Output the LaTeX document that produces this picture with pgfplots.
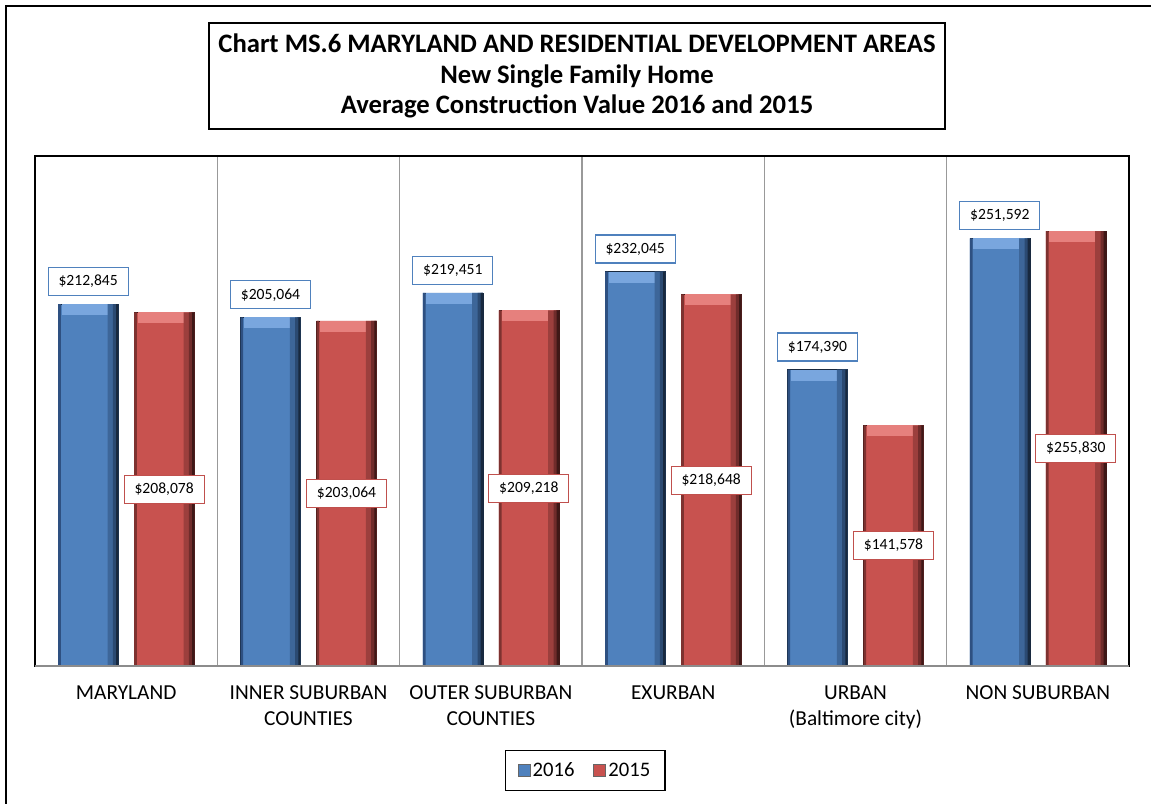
\documentclass[border=0pt]{standalone}
\usepackage{fontspec}
\setmainfont{Carlito}
\usepackage{pgfplots}
\pgfplotsset{compat=1.18}
\usepackage{pgfplotstable}

\definecolor{barblue}{HTML}{4F81BD}
\definecolor{bluebevel}{HTML}{79A6DE}
\definecolor{bluemid}{HTML}{3D6699}
\definecolor{bluemid2}{HTML}{2B4A72}
\definecolor{bluedark}{HTML}{18293F}
\definecolor{blueedge}{HTML}{2E5081}
\definecolor{barred}{HTML}{C0504D}
\definecolor{redbar}{HTML}{C8524F}
\definecolor{redbevel}{HTML}{E6807D}
\definecolor{redmid}{HTML}{9C3F3D}
\definecolor{redmid2}{HTML}{702C2B}
\definecolor{reddark}{HTML}{3F1817}
\definecolor{rededge}{HTML}{7E3230}

\pgfplotstableread{
x v lab
0 212.845 212,845
1 205.064 205,064
2 219.451 219,451
3 232.045 232,045
4 174.390 174,390
5 251.592 251,592
}\tblA
\pgfplotstableread{
x v
0 208.078
1 203.064
2 209.218
3 218.648
4 141.578
5 255.830
}\tblB

\begin{document}
\begin{tikzpicture}
\path[use as bounding box] (0,0) rectangle (863.25pt,602.25pt);
\draw[line width=1.1pt] (4.5pt,-20pt) -- (4.5pt,597.75pt) -- (880pt,597.75pt);
\node[draw=black, line width=1.1pt, minimum width=552pt, minimum height=79.5pt, align=center,
      font=\bfseries\fontsize{20}{22.8}\selectfont] at (432.75pt,545.25pt)
  {Chart MS.6 MARYLAND AND RESIDENTIAL DEVELOPMENT AREAS\\New Single Family Home\\Average Construction Value 2016 and 2015};
\begin{axis}[
  at={(26.25pt,102.75pt)}, anchor=south west,
  width=820.5pt, height=382.5pt, scale only axis,
  xmin=-0.5, xmax=5.5, ymin=0, ymax=300,
  ytick=\empty,
  xtick={0,1,2,3,4,5},
  xticklabels={MARYLAND,{INNER SUBURBAN\\COUNTIES},{OUTER SUBURBAN\\COUNTIES},EXURBAN,{URBAN\\(Baltimore city)},NON SUBURBAN},
  minor xtick={0.5,1.5,2.5,3.5,4.5},
  xminorgrids,
  minor grid style={draw=black!40, line width=1.1pt},
  major tick length=0pt, minor tick length=0pt,
  axis line style={line width=1.1pt, black},
  xticklabel style={align=center, font=\fontsize{16}{19.5}\selectfont, yshift=-11pt},
  ybar, bar width=45pt,
  clip=false,
  legend style={at={(0.503,-0.2049)}, anchor=center, legend columns=2, draw=black, line width=1.1pt,
     font=\fontsize{15.5}{18}\selectfont, inner xsep=9pt, inner ysep=7pt,
     /tikz/every even column/.append style={column sep=12pt}},
  legend image code/.code={\draw[#1, draw=black!60, line width=0.3pt] (0pt,-4.5pt) rectangle (9pt,4.5pt);},
]
% 2016 main bars with labels
\addplot[fill=barblue, draw=bluedark, line width=0.4pt, bar shift=-28.5pt,
  point meta=explicit symbolic,
  nodes near coords={\$\pgfplotspointmeta},
  every node near coord/.append style={draw=barblue, fill=white, line width=0.8pt, text=black,
     font=\fontsize{11.7}{13}\selectfont, minimum width=60pt, minimum height=21pt, inner sep=0pt,
     anchor=south, yshift=6pt},
  error bars/.cd, y dir=minus, y fixed=6.5, error mark=none,
  error bar style={line width=40pt, color=bluebevel}
] table[x=x, y=v, meta=lab] {\tblA};
\addlegendentry{2016}
% 2015 main bars
\addplot[fill=redbar, draw=reddark, line width=0.4pt, bar shift=28.5pt,
  error bars/.cd, y dir=minus, y fixed=6.5, error mark=none,
  error bar style={line width=40pt, color=redbevel}
] table[x=x, y=v] {\tblB};
\addlegendentry{2015}
% edge shading strips
\addplot[forget plot, fill=bluemid, draw=none, bar width=8pt, bar shift=-10pt] table[x=x, y=v] {\tblA};
\addplot[forget plot, fill=bluemid2, draw=none, bar width=4pt, bar shift=-8pt] table[x=x, y=v] {\tblA};
\addplot[forget plot, fill=bluedark, draw=none, bar width=1.6pt, bar shift=-6.8pt] table[x=x, y=v] {\tblA};
\addplot[forget plot, fill=blueedge, draw=none, bar width=2pt, bar shift=-50pt] table[x=x, y=v] {\tblA};
\addplot[forget plot, fill=redmid, draw=none, bar width=8pt, bar shift=47pt] table[x=x, y=v] {\tblB};
\addplot[forget plot, fill=redmid2, draw=none, bar width=4pt, bar shift=49pt] table[x=x, y=v] {\tblB};
\addplot[forget plot, fill=reddark, draw=none, bar width=1.6pt, bar shift=50.2pt] table[x=x, y=v] {\tblB};
\addplot[forget plot, fill=rededge, draw=none, bar width=2pt, bar shift=7pt] table[x=x, y=v] {\tblB};
% 2015 labels, centred on the bars
\addplot[forget plot, draw=none, fill=none, bar shift=28.5pt,
  point meta=explicit symbolic,
  visualization depends on={value \thisrow{v} \as \rawy},
  nodes near coords={\$\pgfplotspointmeta},
  every node near coord/.append style={draw=barred, fill=white, line width=0.8pt, text=black,
     font=\fontsize{11.7}{13}\selectfont, minimum width=60pt, minimum height=21pt, inner sep=0pt,
     anchor=center, yshift={-0.6375pt*\rawy}}
] table[x=x, y=v, meta=lab] {
x v lab
0 208.078 208,078
1 203.064 203,064
2 209.218 209,218
3 218.648 218,648
4 141.578 141,578
5 255.830 255,830
};
\draw[black!45, line width=1.5pt] (rel axis cs:0,0) -- (rel axis cs:1,0);
\end{axis}
\end{tikzpicture}
\end{document}
